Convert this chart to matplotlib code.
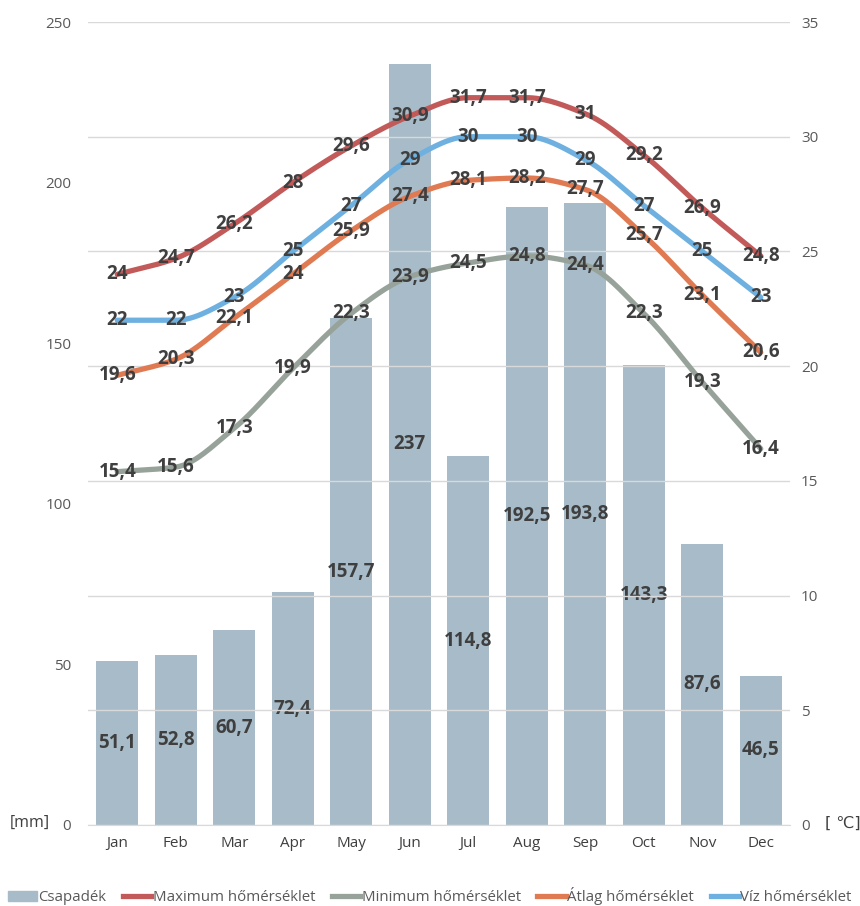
import numpy as np
import matplotlib
matplotlib.use("Agg")
import matplotlib.pyplot as plt
from matplotlib.patches import Patch
from matplotlib.lines import Line2D

plt.rcParams['font.family'] = ['Open Sans', 'DejaVu Sans']

months = ["Jan", "Feb", "Mar", "Apr", "May", "Jun", "Jul", "Aug", "Sep", "Oct", "Nov", "Dec"]
precip = [51.1, 52.8, 60.7, 72.4, 157.7, 237, 114.8, 192.5, 193.8, 143.3, 87.6, 46.5]
t_max = [24, 24.7, 26.2, 28, 29.6, 30.9, 31.7, 31.7, 31, 29.2, 26.9, 24.8]
t_min = [15.4, 15.6, 17.3, 19.9, 22.3, 23.9, 24.5, 24.8, 24.4, 22.3, 19.3, 16.4]
t_avg = [19.6, 20.3, 22.1, 24, 25.9, 27.4, 28.1, 28.2, 27.7, 25.7, 23.1, 20.6]
t_water = [22, 22, 23, 25, 27, 29, 30, 30, 29, 27, 25, 23]

series = [
    ("Maximum hőmérséklet", t_max, "#c25a5a"),
    ("Minimum hőmérséklet", t_min, "#97a39a"),
    ("Átlag hőmérséklet", t_avg, "#e07a52"),
    ("Víz hőmérséklet", t_water, "#6eb0e0"),
]
bar_color = "#a7bcc8"
label_color = "#3f3f3f"
tick_color = "#595959"


def fmt(v):
    return f"{v:g}".replace(".", ",")


def smooth(x, y, n=30):
    # monotone cubic (Fritsch-Carlson) curve through the points
    x = np.asarray(x, float)
    y = np.asarray(y, float)
    h = np.diff(x)
    d = np.diff(y) / h
    m = np.zeros_like(y)
    m[0], m[-1] = d[0], d[-1]
    for i in range(1, len(y) - 1):
        if d[i - 1] * d[i] <= 0:
            m[i] = 0
        else:
            w1 = 2 * h[i] + h[i - 1]
            w2 = h[i] + 2 * h[i - 1]
            m[i] = (w1 + w2) / (w1 / d[i - 1] + w2 / d[i])
    xs, ys = [], []
    t = np.linspace(0, 1, n)
    for i in range(len(y) - 1):
        h00 = 2 * t ** 3 - 3 * t ** 2 + 1
        h10 = t ** 3 - 2 * t ** 2 + t
        h01 = -2 * t ** 3 + 3 * t ** 2
        h11 = t ** 3 - t ** 2
        xs.append(x[i] + t * h[i])
        ys.append(h00 * y[i] + h10 * h[i] * m[i] + h01 * y[i + 1] + h11 * h[i] * m[i + 1])
    return np.concatenate(xs), np.concatenate(ys)


fig = plt.figure(figsize=(8.6, 9.06), dpi=100)
ax = fig.add_axes([88 / 860, 81 / 906, 702 / 860, 803 / 906])
ax2 = ax.twinx()

x = np.arange(len(months))
ax.bar(x, precip, width=0.72, color=bar_color, zorder=2)
ax.set_ylim(0, 250)
ax.set_xlim(-0.5, 11.5)
ax.set_yticks(np.arange(0, 251, 50))
ax2.set_ylim(0, 35)
ax2.set_yticks(np.arange(0, 36, 5))
ax2.grid(True, axis='y', color="#d9d9d9", linewidth=1, zorder=0)
ax.set_zorder(ax2.get_zorder() - 1)
ax2.patch.set_visible(False)

for axis in (ax, ax2):
    for s in axis.spines.values():
        s.set_visible(False)
    axis.tick_params(length=0, labelsize=11, labelcolor=tick_color)
ax2.spines['bottom'].set_visible(True)
ax2.spines['bottom'].set_color("#d9d9d9")
ax.tick_params(axis='y', pad=12)
ax2.tick_params(axis='y', pad=8)
ax.set_xticks(x)
ax.set_xticklabels(months, color=label_color)
ax.tick_params(axis='x', pad=8)

for xi, v in zip(x, precip):
    ax.text(xi, v / 2, fmt(v), ha='center', va='center', fontsize=13.5,
            fontweight='bold', color=label_color, zorder=5)

handles = [Patch(color=bar_color, label="Csapadék")]
for name, vals, col in series:
    sx, sy = smooth(x, vals)
    ax2.plot(sx, sy, color=col, linewidth=3.8, solid_capstyle='round', zorder=3)
    handles.append(Line2D([0], [0], color=col, linewidth=3.8, label=name))

for name, vals, col in series:
    for xi, v in zip(x, vals):
        ax2.text(xi, v, fmt(v), ha='center', va='center', fontsize=13.5,
                 fontweight='bold', color=label_color, zorder=6)

fig.text(30 / 860, 1 - 823 / 906, "[mm]", ha='center', va='center', fontsize=11.5, color=label_color)
fig.text(843 / 860, 1 - 823 / 906, "[ ℃]", ha='center', va='center', fontsize=11.5,
         color=label_color, family=['DejaVu Sans'])

fig.legend(handles=handles, loc='center', bbox_to_anchor=(0.5, 1 - 896 / 906), ncol=5,
           frameon=False, fontsize=10.8, labelcolor=tick_color, handlelength=1.9,
           handletextpad=0.1, columnspacing=1.1)

fig.savefig("out.png", dpi=100)
